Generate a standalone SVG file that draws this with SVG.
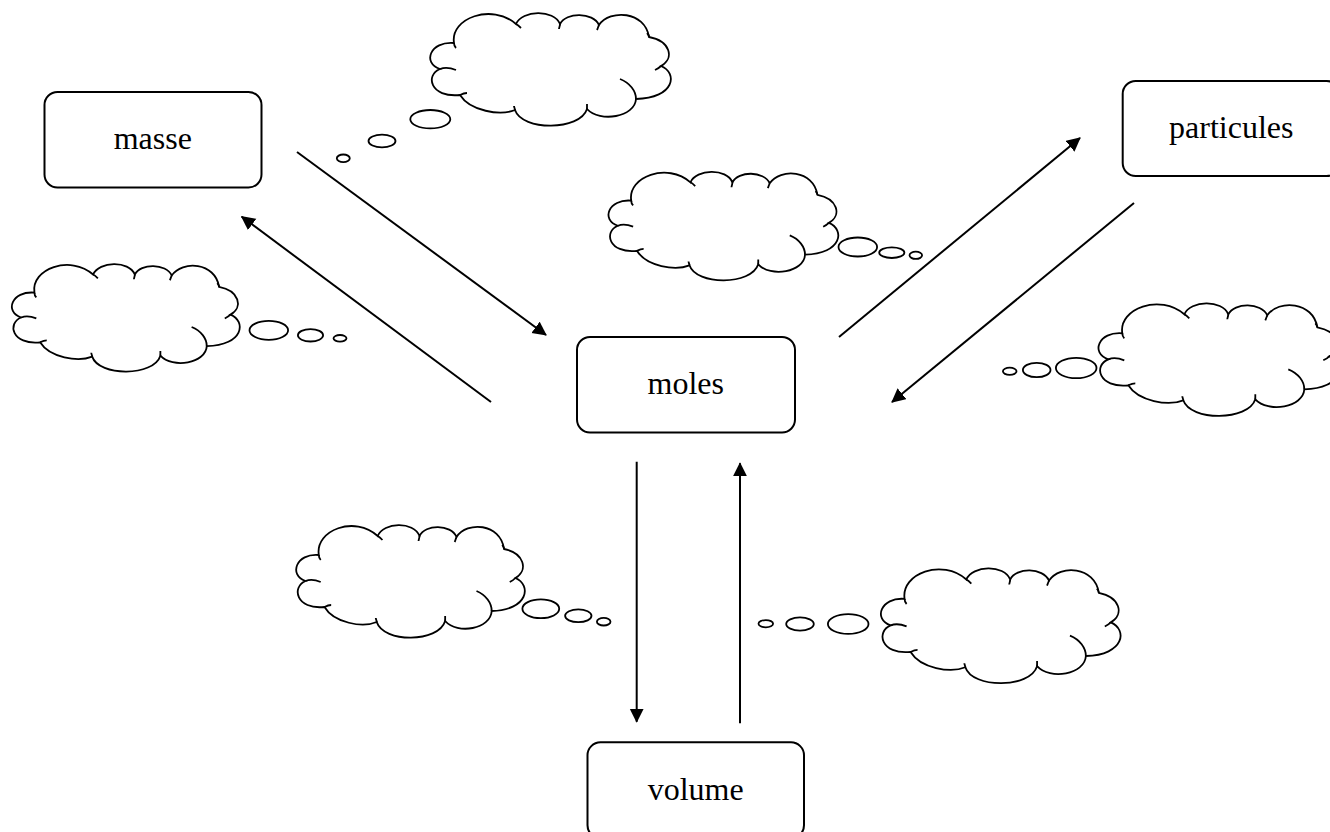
<svg xmlns="http://www.w3.org/2000/svg" width="1330" height="832" viewBox="0 0 1330 832">
<style>
.box{fill:#fff;stroke:#000;stroke-width:2}
.lbl{font-family:"Liberation Serif","Times New Roman",serif;font-size:32px;fill:#000;text-anchor:middle}
.arr{stroke:#000;stroke-width:2;fill:none;marker-end:url(#ah)}
.cl{fill:#fff;stroke:#000;stroke-width:1.8;vector-effect:non-scaling-stroke}
.tk{fill:none;stroke:#000;stroke-width:1.8;vector-effect:non-scaling-stroke}
.bub{fill:#fff;stroke:#000;stroke-width:1.8}
</style>
<defs>
<marker id="ah" markerUnits="userSpaceOnUse" markerWidth="15" markerHeight="15" refX="13" refY="7" orient="auto">
<path d="M0,0 L14,7 L0,14 Z" fill="#000"/>
</marker>
<g id="cloud">
<path class="cl" d="M24,30 C20,5 62,-10 86,11 C92,-3 124,-4 130,11 C136,-1 163,-1 169,12 C180,-4 215,-2 219,24 C240,28 245,45 231,53 C248,60 245,85 206,86 C205,104 170,110 157,96 C150,118 92,118 85,97 C70,103 40,98 30,82 C0,85 -5,62 10,56 C-8,50 0,28 24,30 Z"/>
<path class="tk" d="M190,66 C200,70 206,78 206,86 M10,56 C15,54 21,55 26,57 M30,82 C32,81 35,80 37,80 M85,97 C85,96 84,94 84,93 M157,96 C157,94 157,93 157,91 M231,53 C229,55 227,56 225,57 M219,24 C219,22 218,21 217,20 M169,12 C168,14 168,15 167,17 M130,11 C130,13 129,15 129,16 M86,11 C88,12 90,14 91,15 M24,30 C24,32 25,34 26,35"/>
</g>
</defs>

<g id="connectors">
<line class="arr" x1="297" y1="152" x2="546" y2="335"/>
<line class="arr" x1="491" y1="402" x2="241.7" y2="216.7"/>
<line class="arr" x1="839" y1="337" x2="1080" y2="138"/>
<line class="arr" x1="1134" y1="203" x2="892" y2="402"/>
<line class="arr" x1="636.7" y1="461.7" x2="636.7" y2="721.7"/>
<line class="arr" x1="740" y1="723.3" x2="740" y2="463.3"/>
</g>

<g id="cloud1">
<use href="#cloud" transform="translate(430,13)"/>
<ellipse class="bub" cx="430.3" cy="119.2" rx="20" ry="9.2"/>
<ellipse class="bub" cx="382" cy="141" rx="13.5" ry="6.3"/>
<ellipse class="bub" cx="343.3" cy="158.3" rx="6.5" ry="3.8"/>
</g>
<g id="cloud2">
<use href="#cloud" transform="translate(11.7,264) scale(0.947,0.955)"/>
<ellipse class="bub" cx="268.8" cy="330.3" rx="19.3" ry="9.5"/>
<ellipse class="bub" cx="310.5" cy="335.3" rx="12.6" ry="6.2"/>
<ellipse class="bub" cx="340" cy="338.3" rx="6.5" ry="3.3"/>
</g>
<g id="cloud3">
<use href="#cloud" transform="translate(608.3,171.7) scale(0.955,0.965)"/>
<ellipse class="bub" cx="857.8" cy="247" rx="19.3" ry="9.5"/>
<ellipse class="bub" cx="891.8" cy="252.7" rx="12.6" ry="5.3"/>
<ellipse class="bub" cx="915.8" cy="255.3" rx="6.3" ry="3.6"/>
</g>
<g id="cloud4">
<use href="#cloud" transform="translate(1098.3,303.3)"/>
<ellipse class="bub" cx="1009.7" cy="371.3" rx="6.8" ry="3.6"/>
<ellipse class="bub" cx="1036.7" cy="370" rx="13.8" ry="7.2"/>
<ellipse class="bub" cx="1076.2" cy="368" rx="20.3" ry="10.2"/>
</g>
<g id="cloud5">
<use href="#cloud" transform="translate(296,525) scale(0.95,1)"/>
<ellipse class="bub" cx="540.8" cy="608.8" rx="18.4" ry="9.4"/>
<ellipse class="bub" cx="578.3" cy="615.8" rx="13.2" ry="6.4"/>
<ellipse class="bub" cx="603.7" cy="621.7" rx="6.8" ry="3.8"/>
</g>
<g id="cloud6">
<use href="#cloud" transform="translate(880.7,568.3) scale(0.996,1.02)"/>
<ellipse class="bub" cx="765.8" cy="623.7" rx="7.3" ry="3.6"/>
<ellipse class="bub" cx="800" cy="624" rx="13.8" ry="6.6"/>
<ellipse class="bub" cx="848.2" cy="624" rx="20.3" ry="9.9"/>
</g>

<g id="masse">
<rect class="box" x="44.5" y="92" width="217" height="95.5" rx="13"/>
<text class="lbl" x="152.8" y="149.3">masse</text>
</g>
<g id="particules">
<rect class="box" x="1122.7" y="81" width="217" height="95" rx="13"/>
<text class="lbl" x="1231.3" y="138.3">particules</text>
</g>
<g id="moles">
<rect class="box" x="577" y="337" width="218" height="95.5" rx="13"/>
<text class="lbl" x="685.8" y="394">moles</text>
</g>
<g id="volume">
<rect class="box" x="587.5" y="742.3" width="216.5" height="96" rx="13"/>
<text class="lbl" x="695.7" y="800">volume</text>
</g>
</svg>
